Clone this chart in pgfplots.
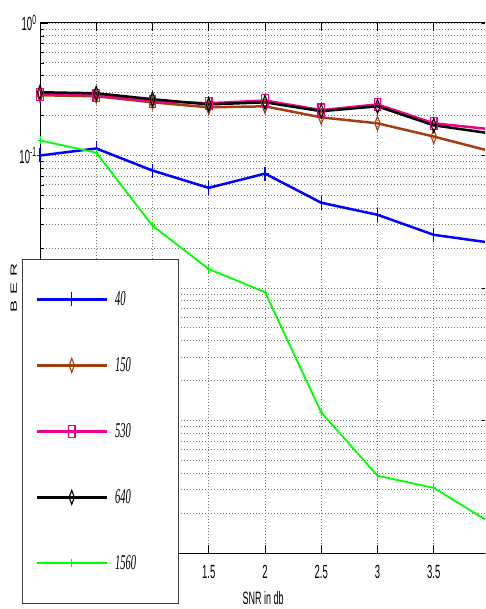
\documentclass[border=0pt]{standalone}
\usepackage{pgfplots}
\pgfplotsset{compat=1.18}
\usepackage{fontspec}
\usepackage{graphicx}
\newfontfamily\narrowsans[FakeStretch=0.5]{Liberation Sans}
\newfontfamily\plainsans{Liberation Sans}
\newfontfamily\legfont[FakeStretch=0.5]{Liberation Serif}
\definecolor{brn}{RGB}{165,62,15}
\begin{document}
\begin{tikzpicture}[x=1pt,y=1pt]
\useasboundingbox (0,0) rectangle (485,609);
\clip (0,0) rectangle (485,609);
\begin{axis}[
  at={(40pt,56pt)}, anchor=south west,
  scale only axis, width=450pt, height=530pt,
  xmin=0, xmax=4, ymode=log, ymin=1e-4, ymax=1,
  clip=false,
  xtick={0,0.5,1,1.5,2,2.5,3,3.5},
  ytick={1e-4,1e-3,1e-2,1e-1,1},
  yticklabels={,,,10\textsuperscript{-1},10\textsuperscript{0}},
  grid=both,
  major grid style={dash pattern=on 0.8pt off 2.2pt, black!55, line width=0.8pt},
  minor grid style={dash pattern=on 0.8pt off 2.2pt, black!55, line width=0.8pt},
  tick style={black, line width=0.6pt},
  major tick length=8pt, minor tick length=4pt,
  axis line style={black, line width=1pt},
  /pgf/number format/assume math mode=true,
  ticklabel style={font=\narrowsans\fontsize{19}{19}\selectfont},
  xticklabel style={yshift=-9pt},
  xlabel={SNR in db},
  xlabel style={font=\narrowsans\fontsize{18}{18}\selectfont, at={(axis description cs:0.496,-0.085)}, anchor=center},
  ylabel={\scalebox{1}[0.5]{B\,\,E\,\,R}},
  ylabel style={font=\plainsans\fontsize{18}{18}\selectfont, at={(axis description cs:-0.058,0.5)}, anchor=center, rotate=0},
  legend style={at={(axis description cs:-0.04,0.555)}, anchor=north west,
    draw=black!75, line width=1pt, fill=white,
    inner xsep=13pt, inner ysep=7pt, row sep=0pt,
    font=\legfont\itshape\fontsize{21}{21}\selectfont,
    nodes={anchor=west, minimum height=66pt, inner sep=0pt, text width=50pt, align=left},
    /tikz/every odd column/.append style={column sep=7pt}},
  legend image code/.code={\draw[mark repeat=2,mark phase=2,#1] plot coordinates {(0pt,0pt)(35pt,0pt)(70pt,0pt)};},
]
\addplot[blue, line width=2.5pt, mark=+, mark size=7pt, mark options={solid, line width=1.3pt, xscale=0.5}]
 coordinates {(0,0.100)(0.5,0.113)(1,0.077)(1.5,0.057)(2,0.073)(2.5,0.044)(3,0.0357)(3.5,0.0252)(4,0.022)};
\addlegendentry{40}
\addplot[brn, line width=2.5pt, mark=diamond, mark size=7pt, mark options={solid, line width=1.1pt, xscale=0.5}]
 coordinates {(0,0.285)(0.5,0.28)(1,0.252)(1.5,0.231)(2,0.235)(2.5,0.194)(3,0.175)(3.5,0.139)(4,0.108)};
\addlegendentry{150}
\addplot[magenta, line width=2.5pt, mark=square, mark size=6pt, mark options={solid, line width=1.3pt, xscale=0.55}]
 coordinates {(0,0.29)(0.5,0.285)(1,0.257)(1.5,0.248)(2,0.26)(2.5,0.22)(3,0.243)(3.5,0.175)(4,0.158)};
\addlegendentry{530}
\addplot[black, line width=2.5pt, mark=diamond, mark size=7pt, mark options={solid, line width=1.1pt, xscale=0.5}]
 coordinates {(0,0.30)(0.5,0.295)(1,0.266)(1.5,0.243)(2,0.252)(2.5,0.216)(3,0.235)(3.5,0.169)(4,0.147)};
\addlegendentry{640}
\addplot[green, line width=1.8pt, mark=+, mark size=4pt, mark options={solid, line width=1pt, xscale=0.5}]
 coordinates {(0,0.13)(0.5,0.105)(1,0.0295)(1.5,0.0139)(2,0.0093)(2.5,0.00115)(3,0.000383)(3.5,0.00031)(4,0.00017)};
\addlegendentry{1560}
\end{axis}
\end{tikzpicture}
\end{document}
